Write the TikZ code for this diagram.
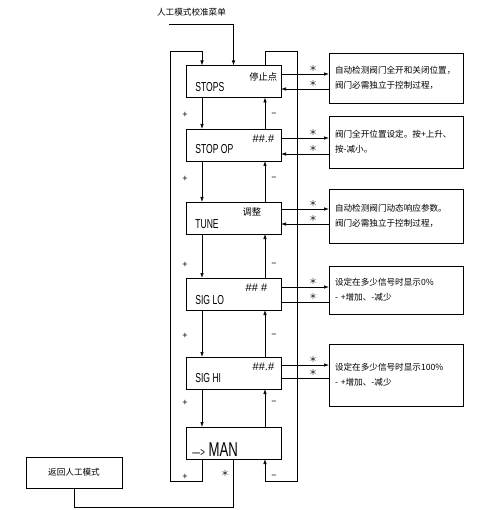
\documentclass[tikz,border=0pt]{standalone}
\usepackage{fontspec}
\newfontfamily\cjk{Noto Sans CJK SC}
\newfontfamily\cadfont[FakeStretch=0.66]{Liberation Sans}
\newfontfamily\plainsans{Liberation Sans}
\usetikzlibrary{arrows.meta,positioning}

\begin{document}
\begin{tikzpicture}[
			x=1pt, y=-1pt,
			line width=0.7pt,
			every node/.style={font=\cjk\fontsize{8.6}{15}\selectfont, inner sep=0pt},
			menubox/.style={rectangle, minimum width=95pt, minimum height=32pt, outer sep=0pt, draw=black},
			infobox/.style={rectangle, minimum width=134pt, text width=122pt, inner xsep=6pt, align=left, outer sep=0pt, draw=black},
			backbox/.style={rectangle, minimum width=96pt, minimum height=31pt, outer sep=0pt, draw=black},
			itemname/.style={anchor=west, font=\cadfont\fontsize{13}{13}\selectfont},
			itemvalue/.style={anchor=east, font=\plainsans\fontsize{11}{11}\selectfont},
			cjkvalue/.style={anchor=east, font=\cjk\fontsize{9.3}{9.3}\selectfont},
			keysign/.style={font=\plainsans\fontsize{9}{9}\selectfont},
			starsign/.style={font=\cjk\fontsize{8}{8}\selectfont},
			arrow/.style={-{Latex[length=5pt,width=3.5pt]}}
		]
		\useasboundingbox (0,0) rectangle (488,510);

		% Menu nodes
		\node[menubox] (stops) at (233.5,81.5) {};
		\node[menubox, below=31.5pt of stops] (stopop) {};
		\node[menubox, below=41pt of stopop] (tune) {};
		\node[menubox, below=44pt of tune] (siglo) {};
		\node[menubox, below=47pt of siglo] (sighi) {};
		\node[menubox, below=38pt of sighi] (man) {};

		% Texts in the menu nodes
		\node[itemname] (stops-name) at ([xshift=9pt,yshift=-5.5pt]stops.west) {STOPS};
		\node[cjkvalue] (stops-value) at ([xshift=-3.5pt,yshift=4.5pt]stops.east) {停止点};
		\node[itemname] (stopop-name) at ([xshift=9pt,yshift=-4.5pt]stopop.west) {STOP OP};
		\node[itemvalue] (stopop-value) at ([xshift=-6.5pt,yshift=6pt]stopop.east) {\#\#.\#};
		\node[itemname] (tune-name) at ([xshift=9pt,yshift=-6.5pt]tune.west) {TUNE};
		\node[cjkvalue] (tune-value) at ([xshift=-19.5pt,yshift=6.5pt]tune.east) {调整};
		\node[itemname] (siglo-name) at ([xshift=9pt,yshift=-6.5pt]siglo.west) {SIG LO};
		\node[itemvalue] (siglo-value) at ([xshift=-13.5pt,yshift=6pt]siglo.east) {\#\# \#};
		\node[itemname] (sighi-name) at ([xshift=9pt,yshift=-5.5pt]sighi.west) {SIG HI};
		\node[itemvalue] (sighi-value) at ([xshift=-6.5pt,yshift=6pt]sighi.east) {\#\#.\#};
		\node[itemname, font=\cadfont\fontsize{20}{20}\selectfont] (man-name) at ([xshift=6pt,yshift=-6.5pt]man.west) {{\fontsize{12}{12}\selectfont —>} MAN};

		% Info nodes
		\node[infobox, minimum height=50pt, right=48pt of stops, yshift=3.5pt] (info1) {自动检测阀门全开和关闭位置，\\阀门必需独立于控制过程，};
		\node[infobox, minimum height=52pt, right=48pt of stopop, yshift=3pt] (info2) {阀门全开位置设定。按+上升、\\按-减小。};
		\node[infobox, minimum height=54pt, right=48pt of tune, yshift=2pt] (info3) {自动检测阀门动态响应参数。\\阀门必需独立于控制过程，};
		\node[infobox, minimum height=48pt, right=48pt of siglo, yshift=4pt] (info4) {设定在多少信号时显示0\%\\- +增加、-减少};
		\node[infobox, minimum height=62pt, right=48pt of sighi, yshift=-2pt] (info5) {设定在多少信号时显示100\%\\- +增加、-减少};

		% Other nodes
		\node (menutitle) at (191.5,12) {人工模式校准菜单};
		\coordinate (menuin) at (169,24);
		\node[backbox] (back) at (74,472.5) {返回人工模式};
		\coordinate (leftrail) at (170,51.5);
		\coordinate (rightrail) at (297.5,481);

		% Connections down (+)
		\draw[arrow] ([xshift=-31.5pt]stops.south) -- ([xshift=-31.5pt]stopop.north) node[keysign, pos=0.56, xshift=-17pt] {+};
		\draw[arrow] ([xshift=-31.5pt]stopop.south) -- ([xshift=-31.5pt]tune.north) node[keysign, pos=0.44, xshift=-17pt] {+};
		\draw[arrow] ([xshift=-31.5pt]tune.south) -- ([xshift=-31.5pt]siglo.north) node[keysign, pos=0.70, xshift=-17pt] {+};
		\draw[arrow] ([xshift=-31.5pt]siglo.south) -- ([xshift=-31.5pt]sighi.north) node[keysign, pos=0.55, xshift=-17pt] {+};
		\draw[arrow] ([xshift=-31.5pt]sighi.south) -- ([xshift=-31.5pt]man.north) node[keysign, pos=0.37, xshift=-17pt] {+};
		\draw[arrow] ([xshift=-31.5pt]man.south) -- ++(0,22) node[keysign, pos=1, xshift=-17pt, yshift=4pt] {+} -| (leftrail) -| ([xshift=-31.5pt]stops.north);

		% Connections up (-)
		\draw[arrow] ([xshift=31.5pt]stopop.north) -- ([xshift=31.5pt]stops.south) node[keysign, pos=0.44, xshift=9pt] {−};
		\draw[arrow] ([xshift=31.5pt]tune.north) -- ([xshift=31.5pt]stopop.south) node[keysign, pos=0.56, xshift=9pt] {−};
		\draw[arrow] ([xshift=31.5pt]siglo.north) -- ([xshift=31.5pt]tune.south) node[keysign, pos=0.30, xshift=9pt] {−};
		\draw[arrow] ([xshift=31.5pt]sighi.north) -- ([xshift=31.5pt]siglo.south) node[keysign, pos=0.45, xshift=9pt] {−};
		\draw[arrow] ([xshift=31.5pt]man.north) -- ([xshift=31.5pt]sighi.south) node[keysign, pos=0.63, xshift=9pt] {−};
		\draw[arrow] ([xshift=31.5pt]stops.north) -- ++(0,-14) -| (rightrail) -| ([xshift=31.5pt]man.south) node[keysign, pos=0.5, xshift=9pt, yshift=4pt] {−};

		% Connections to the info nodes
		\draw[arrow] ([yshift=7.5pt]stops.east) -- ([yshift=7.5pt]stops.east -| info1.west) node[starsign, pos=0.67, above=2pt] {＊};
		\draw[arrow] ([yshift=-7.5pt]stops.east -| info1.west) -- ([yshift=-7.5pt]stops.east) node[starsign, pos=0.33, above=2pt] {＊};
		\draw[arrow] ([yshift=7pt]stopop.east) -- ([yshift=7pt]stopop.east -| info2.west) node[starsign, pos=0.67, above=2pt] {＊};
		\draw[arrow] ([yshift=-9pt]stopop.east -| info2.west) -- ([yshift=-9pt]stopop.east) node[starsign, pos=0.33, above=2pt] {＊};
		\draw[arrow] ([yshift=9pt]tune.east) -- ([yshift=9pt]tune.east -| info3.west) node[starsign, pos=0.67, above=2pt] {＊};
		\draw[arrow] ([yshift=-6pt]tune.east -| info3.west) -- ([yshift=-6pt]tune.east) node[starsign, pos=0.33, above=2pt] {＊};
		\draw[arrow] ([yshift=7pt]siglo.east) -- ([yshift=7pt]siglo.east -| info4.west) node[starsign, pos=0.67, above=2pt] {＊};
		\draw ([yshift=-8pt]siglo.east -| info4.west) -- ([yshift=-8pt]siglo.east) node[starsign, pos=0.33, above=2pt] {＊};
		\draw[arrow] ([yshift=8pt]sighi.east) -- ([yshift=8pt]sighi.east -| info5.west) node[starsign, pos=0.67, above=2pt] {＊};
		\draw ([yshift=-5pt]sighi.east -| info5.west) -- ([yshift=-5pt]sighi.east) node[starsign, pos=0.33, above=2pt] {＊};

		% Menu entry and return
		\draw[arrow] (menuin) -| (stops.north);
		\draw (man.south) -- ++(0,48) node[starsign, pos=0.3, xshift=-8.5pt] {＊} -| (back.south);

	\end{tikzpicture}
\end{document}
